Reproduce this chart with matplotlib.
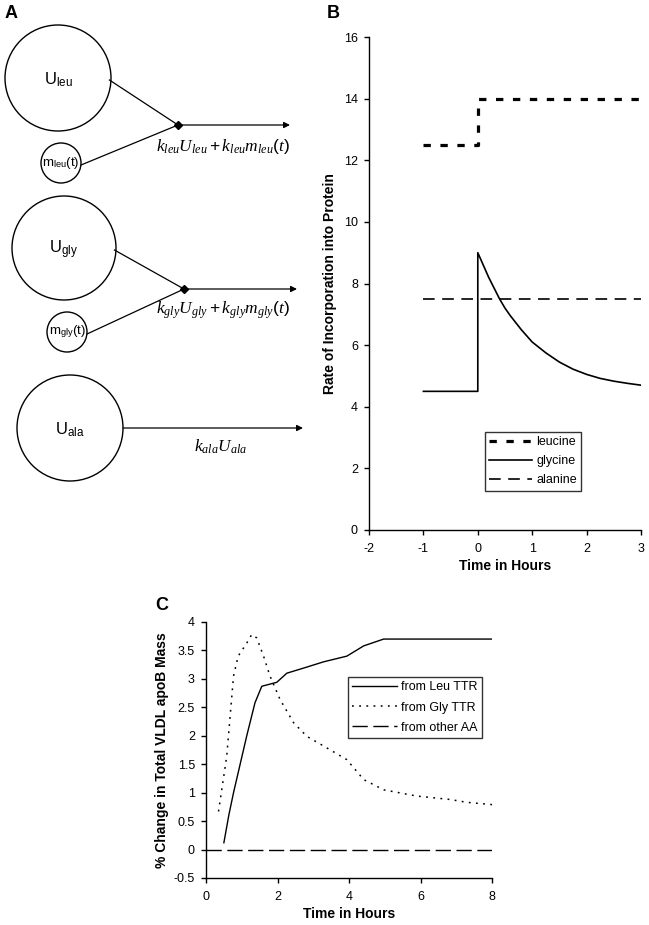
import matplotlib
matplotlib.use("Agg")
import matplotlib.pyplot as plt
import matplotlib.patches as mpatches

plt.rcParams['font.family'] = ['Liberation Sans', 'DejaVu Sans']
plt.rcParams['axes.unicode_minus'] = False
plt.rcParams['mathtext.fontset'] = 'custom'
plt.rcParams['mathtext.rm'] = 'Liberation Sans'
plt.rcParams['mathtext.sf'] = 'Liberation Sans'
plt.rcParams['mathtext.it'] = 'Liberation Serif:italic'

# ---- panel B data ----
leu_t = [-1, 0, 0, 3]
leu_v = [12.5, 12.5, 14, 14]
gly_t = [-1, 0, 0, 0.1, 0.2, 0.3, 0.4, 0.5, 0.6, 0.8, 1.0, 1.25, 1.5, 1.75, 2.0, 2.25, 2.5, 2.75, 3.0]
gly_v = [4.5, 4.5, 9.0, 8.6, 8.2, 7.85, 7.5, 7.2, 6.95, 6.5, 6.1, 5.75, 5.45, 5.22, 5.05, 4.92, 4.83, 4.76, 4.7]
ala_t = [-1, 3]
ala_v = [7.5, 7.5]
b_xticks = [-2, -1, 0, 1, 2, 3]
b_yticks = [0, 2, 4, 6, 8, 10, 12, 14, 16]

# ---- panel C data ----
leuttr_t = [0.5, 0.64, 0.77, 1.14, 1.37, 1.56, 1.98, 2.26, 2.73, 3.29, 3.94, 4.41, 4.97, 5.53, 8.0]
leuttr_v = [0.12, 0.61, 1.0, 2.0, 2.58, 2.87, 2.94, 3.1, 3.19, 3.3, 3.4, 3.58, 3.7, 3.7, 3.7]
glyttr_t = [0.35, 0.58, 0.77, 0.9, 1.14, 1.28, 1.42, 1.61, 1.79, 2.07, 2.45, 2.82, 3.29, 3.94, 4.41, 4.97, 5.9, 6.83, 7.3, 8.0]
glyttr_v = [0.67, 1.64, 3.05, 3.4, 3.63, 3.78, 3.72, 3.4, 3.05, 2.64, 2.23, 1.99, 1.82, 1.58, 1.23, 1.05, 0.94, 0.88, 0.83, 0.79]
other_t = [0, 8]
other_v = [0, 0]
c_xticks = [0, 2, 4, 6, 8]
c_yticks = [-0.5, 0, 0.5, 1, 1.5, 2, 2.5, 3, 3.5, 4]
c_yticklabels = ['-0.5', '0', '0.5', '1', '1.5', '2', '2.5', '3', '3.5', '4']

W, H = 649, 925
fig = plt.figure(figsize=(W / 100, H / 100), dpi=100)

# ---- panel A: diagram in pixel coordinates ----
axA = fig.add_axes([0, 0, 1, 1])
axA.set_xlim(0, W)
axA.set_ylim(H, 0)
axA.axis('off')

big_circles = [(58, 78, 53, 'leu'), (64, 248, 52, 'gly'), (70, 428, 53, 'ala')]
small_circles = [(61, 163, 20, 'leu'), (67, 332, 20, 'gly')]
junctions = [(178, 125), (184, 289)]
arrow_ends = [290, 297]
formulas = [r'$k_{leu}U_{leu}+k_{leu}m_{leu}(t)$', r'$k_{gly}U_{gly}+k_{gly}m_{gly}(t)$']

for cx, cy, r, name in big_circles:
    axA.add_patch(mpatches.Circle((cx, cy), r, fill=False, lw=1.0, ec='black'))
    axA.text(cx, cy + 2, 'U$_{\\mathrm{%s}}$' % name, ha='center', va='center', fontsize=12)
for cx, cy, r, name in small_circles:
    axA.add_patch(mpatches.Circle((cx, cy), r, fill=False, lw=1.0, ec='black'))
    axA.text(cx, cy, 'm$_{\\mathrm{%s}}$(t)' % name, ha='center', va='center', fontsize=9.5)

for i, (jx, jy) in enumerate(junctions):
    bx, by, br, _ = big_circles[i]
    sx, sy, sr, _ = small_circles[i]
    axA.plot([bx + br * 0.97, jx], [by + 2, jy], color='black', lw=0.9)
    axA.plot([sx + sr, jx], [sy + 2, jy], color='black', lw=0.9)
    axA.plot([jx], [jy], marker='D', ms=4, color='black')
    axA.annotate('', xy=(arrow_ends[i], jy), xytext=(jx, jy),
                 arrowprops=dict(arrowstyle='-|>', color='black', lw=0.9,
                                 mutation_scale=9, shrinkA=0, shrinkB=0))
    axA.text(223, jy + 21, formulas[i], ha='center', va='center', fontsize=12.5)

cx, cy, r, _ = big_circles[2]
axA.annotate('', xy=(303, cy), xytext=(cx + r, cy),
             arrowprops=dict(arrowstyle='-|>', color='black', lw=0.9,
                             mutation_scale=9, shrinkA=0, shrinkB=0))
axA.text(221, cy + 19, r'$k_{ala}U_{ala}$', ha='center', va='center', fontsize=12.5)

fig.text(5 / W, 1 - 14 / H, 'A', fontsize=13, fontweight='bold', va='center')
fig.text(327 / W, 1 - 14 / H, 'B', fontsize=13, fontweight='bold', va='center')
fig.text(155 / W, 1 - 606 / H, 'C', fontsize=13, fontweight='bold', va='center')


def style_axes(ax):
    for s in ['top', 'right']:
        ax.spines[s].set_visible(False)
    for s in ['left', 'bottom']:
        ax.spines[s].set_linewidth(1.0)
    ax.tick_params(direction='out', length=3.5, width=1, labelsize=9)
    ax.tick_params(axis='x', pad=5.5)
    ax.tick_params(axis='y', pad=4.5)


# ---- panel B ----
axB = fig.add_axes([369 / W, 1 - 530 / H, (641 - 369) / W, (530 - 37) / H])
axB.plot(leu_t, leu_v, color='black', lw=2.3, linestyle=(0, (2.3, 3.0)), label='leucine')
axB.plot(gly_t, gly_v, color='black', lw=1.2, label='glycine')
axB.plot(ala_t, ala_v, color='black', lw=1.2, linestyle=(0, (7, 4.5)), label='alanine')
axB.set_xlim(-2, 3)
axB.set_ylim(0, 16)
axB.set_xticks(b_xticks)
axB.set_xticklabels([str(v) for v in b_xticks])
axB.set_yticks(b_yticks)
axB.set_yticklabels([str(v) for v in b_yticks])
style_axes(axB)
axB.set_xlabel('Time in Hours', fontsize=10, fontweight='bold', labelpad=3)
axB.set_ylabel('Rate of Incorporation into Protein', fontsize=10, fontweight='bold', labelpad=5)
legB = axB.legend(loc='upper left', bbox_to_anchor=(116 / 272, 98 / 493), fontsize=9, frameon=True,
                  fancybox=False, edgecolor='black', handlelength=3.4, borderpad=0.35,
                  labelspacing=0.55, handletextpad=0.35, borderaxespad=0)
legB.get_frame().set_linewidth(1.0)

# ---- panel C ----
axC = fig.add_axes([206 / W, 1 - 878 / H, (492 - 206) / W, (878 - 622) / H])
axC.plot(leuttr_t, leuttr_v, color='black', lw=1.0, label='from Leu TTR')
axC.plot(glyttr_t, glyttr_v, color='black', lw=1.1, linestyle=(0, (1.2, 3.5)), label='from Gly TTR')
axC.plot(other_t, other_v, color='black', lw=1.0, linestyle=(0, (11, 4)), label='from other AA')
axC.set_xlim(0, 8)
axC.set_ylim(-0.5, 4)
axC.set_xticks(c_xticks)
axC.set_xticklabels([str(v) for v in c_xticks])
axC.set_yticks(c_yticks)
axC.set_yticklabels(c_yticklabels)
style_axes(axC)
axC.set_xlabel('Time in Hours', fontsize=10, fontweight='bold', labelpad=3)
axC.set_ylabel('% Change in Total VLDL apoB Mass', fontsize=10, fontweight='bold', labelpad=3)
legC = axC.legend(loc='upper left', bbox_to_anchor=(142 / 286, 201 / 256), fontsize=9, frameon=True,
                  fancybox=False, edgecolor='black', handlelength=3.6, borderpad=0.35,
                  labelspacing=0.65, handletextpad=0.3, borderaxespad=0)
legC.get_frame().set_linewidth(1.0)

fig.savefig('out.png', dpi=100)
